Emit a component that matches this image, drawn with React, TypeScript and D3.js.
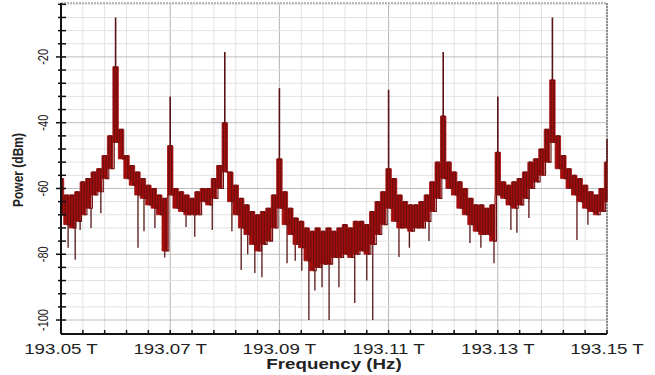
import React from "react";
import * as d3 from "d3";

// spectrum band, one bin every 0.001 THz from 193.05 THz
const freqStart = 193.05;
const binStep = 0.001;

const bandHigh = [
  -57, -62, -62, -61, -58, -57, -55, -54, -50, -44,
  -23, -42, -50, -53, -55, -57, -59, -60, -62, -63,
  -47, -60, -61, -62, -63, -61, -60, -60, -57, -53,
  -40, -55, -59, -63, -65, -67, -68, -67, -66, -62,
  -51, -61, -66, -69, -70, -72, -73, -72, -73, -72,
  -73, -72, -71, -72, -70, -70, -71, -67, -64, -61,
  -54, -57, -62, -64, -65, -65, -64, -62, -58, -52,
  -38, -52, -55, -58, -60, -63, -65, -65, -66, -65,
  -49, -58, -59, -58, -57, -55, -52, -51, -48, -42,
  -27, -44, -50, -54, -56, -57, -59, -61, -62, -60,
  -52,
];

const bandLow = [
  -68, -71, -72, -70, -68, -66, -62, -61, -57, -54,
  -46, -51, -57, -59, -62, -63, -65, -66, -68, -79,
  -62, -66, -67, -68, -68, -68, -64, -65, -63, -60,
  -55, -64, -68, -72, -74, -77, -79, -77, -76, -72,
  -66, -71, -74, -77, -78, -82, -85, -84, -83, -83,
  -81, -81, -80, -81, -80, -79, -80, -77, -74, -71,
  -66, -70, -72, -72, -73, -72, -72, -70, -67, -63,
  -57, -60, -62, -66, -68, -71, -73, -74, -74, -76,
  -62, -63, -65, -66, -65, -63, -60, -58, -56, -52,
  -46, -54, -57, -60, -62, -64, -66, -67, -68, -67,
  -64,
];

// narrow carrier lines
const peakFreqs = [193.06, 193.07, 193.08, 193.09, 193.11, 193.12, 193.13, 193.14, 193.15];
const peakLevels = [-8, -32, -18.5, -29.5, -30, -18.5, -32, -8, -45];

// deep single-sample dips
const dipFreqs = [
  193.0513, 193.0526, 193.0535, 193.0555, 193.0573, 193.0641, 193.0652, 193.0672,
  193.069, 193.0729, 193.0745, 193.0777, 193.0813, 193.083, 193.0842, 193.0855,
  193.0868, 193.0914, 193.0929, 193.0941, 193.0954, 193.0965, 193.0978, 193.0991,
  193.1009, 193.1038, 193.106, 193.1071, 193.1119, 193.1138, 193.1174, 193.1249,
  193.1269, 193.1293, 193.1324, 193.1335, 193.1357, 193.1445, 193.1465,
];
const dipLevels = [
  -78, -81.7, -72.6, -72, -67.5, -78, -73, -72,
  -81, -71.7, -74.7, -72.6, -73, -84.8, -80, -85.7,
  -87, -82.7, -82, -85, -100, -91, -90, -100,
  -90, -94.8, -88, -100, -80.8, -78, -76, -76.6,
  -78, -82.7, -72.6, -73.5, -69, -75.7, -71,
];

const xTicks = [193.05, 193.07, 193.09, 193.11, 193.13, 193.15];
const yTicks = [-20, -40, -60, -80, -100];

const W = 655;
const H = 375;
const left = 61;
const right = 607;
const top = 3;
const bottom = 334;

const font = "'Liberation Sans', Arial, sans-serif";

export default function App() {
  const x = d3.scaleLinear().domain([193.05, 193.15]).range([left, right]);
  const y = d3.scaleLinear().domain([-104.25, -3.6]).range([bottom, top]);

  const bins = bandHigh.map((hi, i) => ({
    f: freqStart + i * binStep,
    hi,
    lo: bandLow[i],
  }));
  const nearest = (f: number) =>
    bins[Math.max(0, Math.min(bins.length - 1, Math.round((f - freqStart) / binStep)))];

  const area = d3
    .area<any>()
    .x((d) => x(d.f))
    .y0((d) => y(d.lo))
    .y1((d) => y(d.hi))
    .curve(d3.curveStep);

  // trace the band as a stepped line: top then bottom of every bin
  const q = (x(freqStart + binStep) - x(freqStart)) / 4;
  const trace: [number, number][] = [];
  bins.forEach((b) => {
    trace.push([Math.max(left, x(b.f) - q), y(b.hi)]);
    trace.push([Math.min(right, x(b.f) + q), y(b.lo)]);
  });
  const traceLine = d3.line().curve(d3.curveStepAfter);

  const minorX = d3.range(0, 26).map((i) => 193.05 + i * 0.004);
  const minorY = d3.range(-100, -3, 4);

  const red = "#a10c0c";
  const dark = "#581414";

  return (
    <svg width={W} height={H} style={{ position: "absolute", left: 0, top: 0, background: "#fff" }}>
      {/* grid */}
      {minorX.map((f, i) => (
        <line key={"gx" + i} x1={x(f)} x2={x(f)} y1={top} y2={bottom}
          stroke={i % 5 === 0 ? "#b4b4b4" : "#e2e2e2"} strokeWidth={1} />
      ))}
      {minorY.map((v, i) => (
        <line key={"gy" + i} x1={left} x2={right} y1={y(v)} y2={y(v)}
          stroke={v % 20 === 0 ? "#bdbdbd" : "#e2e2e2"} strokeWidth={1} />
      ))}

      {/* frame */}
      <line x1={left} x2={right} y1={top} y2={top} stroke="#777" strokeDasharray="2,1" />
      <line x1={right} x2={right} y1={top} y2={bottom} stroke="#777" strokeWidth={1.5} strokeDasharray="2,1" />

      {/* spectrum */}
      <g>
        {peakFreqs.map((f, i) => (
          <line key={"pk" + i} x1={x(f)} x2={x(f)} y1={y(nearest(f).hi)} y2={y(peakLevels[i])}
            stroke={dark} strokeWidth={1.6} />
        ))}
        {dipFreqs.map((f, i) => (
          <line key={"dp" + i} x1={x(f)} x2={x(f)} y1={y(nearest(f).lo)} y2={y(dipLevels[i])}
            stroke={dark} strokeWidth={1.3} />
        ))}
        <path d={area(bins) || ""} fill={red} stroke={red} strokeWidth={0.8} />
        <path d={traceLine(trace) || ""} fill="none" stroke="#6a1010" strokeWidth={1.1} />
      </g>

      {/* axes */}
      <line x1={left} x2={left} y1={top} y2={bottom} stroke="#111" strokeWidth={2} />
      <line x1={left} x2={right} y1={bottom} y2={bottom} stroke="#111" strokeWidth={2} />
      {minorY.map((v, i) => (
        <line key={"ty" + i} x1={v % 20 === 0 ? left - 5 : left - 3} x2={left + 5}
          y1={y(v)} y2={y(v)} stroke="#111" strokeWidth={1.5} />
      ))}
      {minorX.map((f, i) => (
        <line key={"tx" + i} x1={x(f)} x2={x(f)} y1={bottom} y2={bottom - 4} stroke="#111" strokeWidth={1.5} />
      ))}

      {yTicks.map((v) => (
        <text key={"yl" + v} transform={`translate(48,${y(v)}) scale(1.25,1) rotate(-90)`}
          textAnchor="middle" fontFamily={font} fontSize={11} fill="#222">
          {v}
        </text>
      ))}
      {xTicks.map((f) => (
        <text key={"xl" + f} transform={`translate(${x(f)},354) scale(1.25,1)`}
          textAnchor="middle" fontFamily={font} fontSize={15} fill="#222">
          {`${f.toFixed(2)} T`}
        </text>
      ))}

      <text transform={`translate(${(left + right) / 2},369) scale(1.25,1)`} textAnchor="middle"
        fontFamily={font} fontSize={15} fontWeight="bold" fill="#222">
        Frequency (Hz)
      </text>
      <text transform={`translate(23,170) scale(1.25,1) rotate(-90)`} textAnchor="middle"
        fontFamily={font} fontSize={12} fontWeight="bold" fill="#222">
        Power (dBm)
      </text>
    </svg>
  );
}
